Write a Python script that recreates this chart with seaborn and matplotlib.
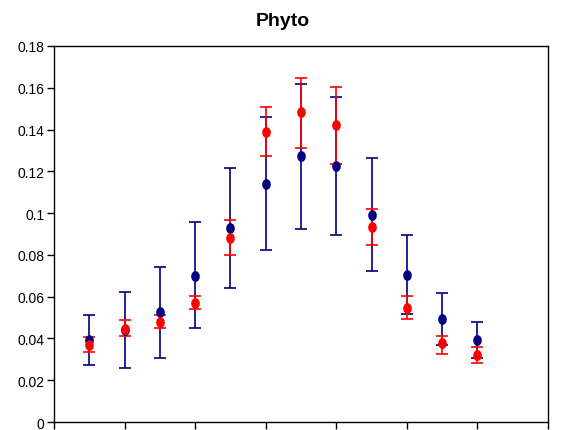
import seaborn as sns
import matplotlib
matplotlib.use("Agg")
import matplotlib.pyplot as plt
from matplotlib.path import Path
import numpy as np
import pandas as pd

# month index and the two series (mean, upper and lower error limits)
months = [1, 2, 3, 4, 5, 6, 7, 8, 9, 10, 11, 12]
blue = [0.0392, 0.0440, 0.0527, 0.0698, 0.0929, 0.1138, 0.1273, 0.1227, 0.0989, 0.0706, 0.0494, 0.0392]
blue_hi = [0.0510, 0.0620, 0.0744, 0.0957, 0.1217, 0.1460, 0.1619, 0.1556, 0.1265, 0.0895, 0.0619, 0.0478]
blue_lo = [0.0273, 0.0259, 0.0305, 0.0448, 0.0643, 0.0824, 0.0925, 0.0895, 0.0722, 0.0518, 0.0370, 0.0305]
red = [0.0368, 0.0444, 0.0478, 0.0571, 0.0881, 0.1390, 0.1486, 0.1422, 0.0935, 0.0548, 0.0376, 0.0320]
red_hi = [0.0405, 0.0487, 0.0511, 0.0605, 0.0965, 0.1508, 0.1649, 0.1602, 0.1020, 0.0603, 0.0414, 0.0357]
red_lo = [0.0337, 0.0414, 0.0452, 0.0540, 0.0798, 0.1273, 0.1310, 0.1233, 0.0849, 0.0492, 0.0327, 0.0281]
yticks = [0, 0.02, 0.04, 0.06, 0.08, 0.1, 0.12, 0.14, 0.16, 0.18]
ytick_labels = ['0', '0.02', '0.04', '0.06', '0.08', '0.1', '0.12', '0.14', '0.16', '0.18']

sns.set_style("white")
plt.rcParams['font.family'] = ['Liberation Sans', 'DejaVu Sans']

# slightly tall ellipse marker like the Excel one
t = np.linspace(0, 2*np.pi, 60)
ell = Path(np.column_stack((0.8*np.cos(t), np.sin(t))), closed=True)

df = pd.DataFrame({'month': months*2,
                   'val': blue+red,
                   'series': ['obs']*12+['sim']*12})

fig = plt.figure(figsize=(5.66, 4.31), dpi=100)
ax = fig.add_axes([0.0954, 0.0185, 0.8728, 0.8725])

cols = {'obs': '#000080', 'sim': '#ff0000'}
for s, m, hi, lo in [('obs', blue, blue_hi, blue_lo), ('sim', red, red_hi, red_lo)]:
    m = np.array(m); hi = np.array(hi); lo = np.array(lo)
    ax.errorbar(months, m, yerr=[m-lo, hi-m], fmt='none', ecolor=cols[s],
                elinewidth=1.2, capsize=4, capthick=1.2, zorder=2)
    sns.scatterplot(data=df[df.series == s], x='month', y='val', color=cols[s],
                    marker=ell, s=60, linewidth=0, ax=ax, zorder=3, legend=False)

ax.set_xlim(0, 14)
ax.set_ylim(0, 0.18)
ax.set_xticks(np.arange(0, 15, 2))
ax.set_xticklabels([])
ax.set_yticks(yticks)
ax.set_yticklabels(ytick_labels, fontsize=10, color='black')
ax.set_xlabel('')
ax.set_ylabel('')
for sp in ax.spines.values():
    sp.set_color('black')
    sp.set_linewidth(1.0)
ax.tick_params(axis='both', direction='out', length=5, width=1, color='black',
               bottom=True, left=True, pad=2)

fig.text(0.5, 0.95, 'Phyto', ha='center', va='center', fontsize=14,
         fontweight='bold', color='black')

fig.savefig('out.png', dpi=100)
